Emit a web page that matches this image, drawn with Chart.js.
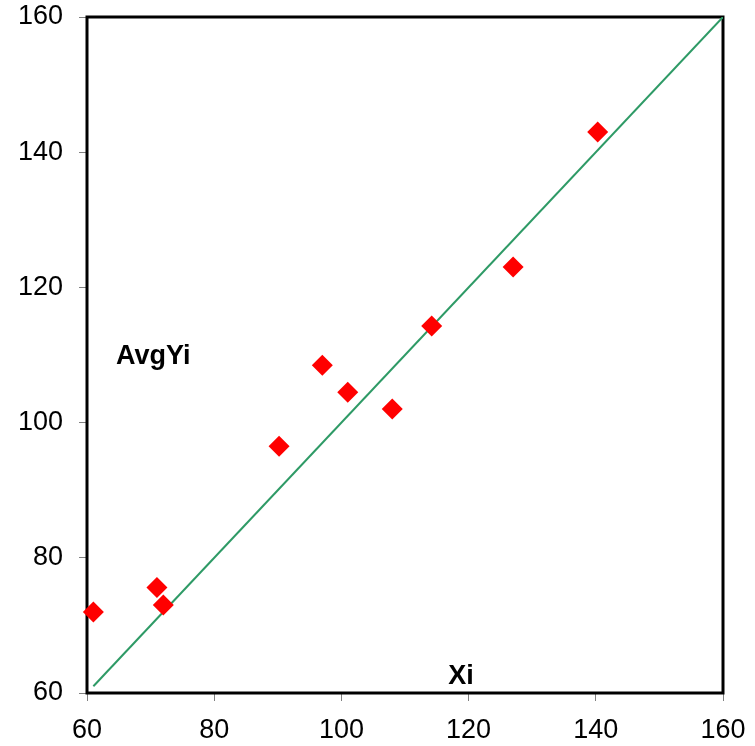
<!DOCTYPE html>
<html>
<head>
<meta charset="utf-8">
<script src="https://cdn.jsdelivr.net/npm/chart.js@4/dist/chart.umd.min.js"></script>
<style>
  html, body { margin: 0; padding: 0; background: #fff; }
  #wrap { width: 755px; height: 746px; }
</style>
</head>
<body>
<div id="wrap"><canvas id="c" width="755" height="746"></canvas></div>
<script>
// Observed pairs: Xi against the average of Yi
const xi    = [61, 71, 72, 90.2, 97, 101, 108, 114.2, 127, 140.3];
const avgYi = [72, 75.6, 73, 96.5, 108.5, 104.5, 102, 114.3, 123, 143];

// Line of equality Y = X
const refX = [61, 160];
const refY = [61, 160];

// Axis ticks
const xTicks = [60, 80, 100, 120, 140, 160];
const yTicks = [60, 80, 100, 120, 140, 160];

const FONT = "'Liberation Sans', Arial, sans-serif";

// Frame around the plotting area (under the markers) and the two in-plot axis titles
const framePlugin = {
  id: 'frame',
  beforeDatasetsDraw(chart) {
    const { ctx, chartArea: a } = chart;
    ctx.save();
    ctx.strokeStyle = '#000';
    ctx.lineWidth = 3;
    ctx.strokeRect(a.left, a.top, a.right - a.left, a.bottom - a.top);
    ctx.restore();
  },
  afterDatasetsDraw(chart) {
    const { ctx } = chart;
    ctx.save();
    ctx.fillStyle = '#000';
    ctx.font = 'bold 27px ' + FONT;
    ctx.textAlign = 'center';
    ctx.textBaseline = 'middle';
    const xs = chart.scales.x, ys = chart.scales.y;
    ctx.fillText('AvgYi', xs.getPixelForValue(70.4), ys.getPixelForValue(109.8));
    ctx.fillText('Xi', xs.getPixelForValue(118.8), ys.getPixelForValue(62.5));
    ctx.restore();
  }
};

new Chart(document.getElementById('c'), {
  type: 'scatter',
  data: {
    datasets: [
      {
        label: 'AvgYi',
        data: xi.map((x, i) => ({ x: x, y: avgYi[i] })),
        pointStyle: 'rectRot',
        pointRadius: 10.5,
        pointHoverRadius: 10.5,
        backgroundColor: '#ff0000',
        borderColor: '#ff0000',
        borderWidth: 0,
        clip: false,
        order: 1
      },
      {
        label: 'Y = X',
        type: 'line',
        data: refX.map((x, i) => ({ x: x, y: refY[i] })),
        borderColor: '#2e9a66',
        borderWidth: 2,
        pointRadius: 0,
        fill: false,
        order: 2
      }
    ]
  },
  options: {
    responsive: false,
    animation: false,
    layout: { padding: { left: 6, right: 32, top: 17, bottom: 0 } },
    plugins: {
      legend: { display: false },
      tooltip: { enabled: false }
    },
    scales: {
      x: {
        type: 'linear',
        min: 60, max: 160,
        afterBuildTicks: s => { s.ticks = xTicks.map(v => ({ value: v })); },
        afterFit: s => { s.height = 53; s.paddingLeft = 0; s.paddingRight = 0; },
        grid: { drawOnChartArea: false, drawTicks: true, tickLength: 8, tickColor: '#808080' },
        border: { display: false },
        ticks: { color: '#000', font: { family: FONT, size: 27 }, padding: 13, maxRotation: 0 }
      },
      y: {
        type: 'linear',
        min: 60, max: 160,
        afterBuildTicks: s => { s.ticks = yTicks.map(v => ({ value: v })); },
        afterFit: s => { s.width = 81; s.paddingTop = 0; s.paddingBottom = 0; },
        grid: { drawOnChartArea: false, drawTicks: true, tickLength: 8, tickColor: '#808080' },
        border: { display: false },
        ticks: { color: '#000', font: { family: FONT, size: 27 }, padding: 16 }
      }
    }
  },
  plugins: [framePlugin]
});
</script>
</body>
</html>
